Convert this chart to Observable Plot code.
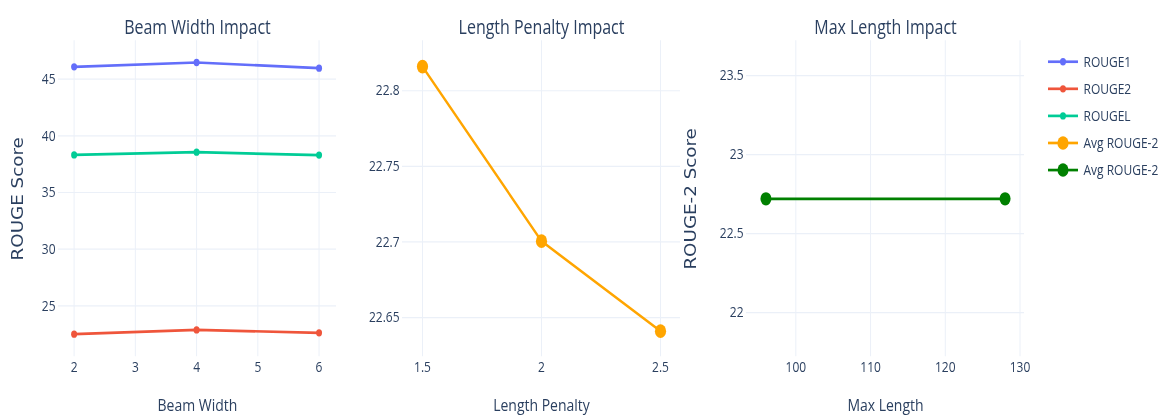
<!DOCTYPE html>
<html>
<head>
<meta charset="utf-8">
<script src="https://cdn.jsdelivr.net/npm/d3@7"></script>
<script src="https://cdn.jsdelivr.net/npm/@observablehq/plot@0.6"></script>
<style>
  html { margin: 0; padding: 0; background: #fff; overflow: hidden; }
  body { margin: 0; padding: 0; background: #fff; width: 1164px; height: 416px; }
  #stage {
    position: relative; width: 1164px; height: 341px;
    transform: scale(1, 1.22); transform-origin: 0 0;
    font-family: "Open Sans", sans-serif;
  }
  #stage > svg { position: absolute; top: 0; }
</style>
</head>
<body>
<div id="stage"></div>
<script>
// Beam width sweep: ROUGE scores
const beamWidths = [2, 4, 6];
const rouge1 = [46.09, 46.47, 45.97];
const rouge2 = [22.50, 22.88, 22.62];
const rougeL = [38.32, 38.56, 38.30];

// Length penalty sweep: average ROUGE-2
const lengthPenalties = [1.5, 2, 2.5];
const avgRouge2ByPenalty = [22.816, 22.7005, 22.641];

// Max length sweep: average ROUGE-2
const maxLengths = [96, 128];
const avgRouge2ByMaxLength = [22.72, 22.72];

// Series names and colours
const metricNames = ["ROUGE1", "ROUGE2", "ROUGEL"];
const metricColors = ["#636efa", "#ef553b", "#00cc96"];
const penaltySeries = "Avg ROUGE-2";
const penaltyColor = "#ffa500";
const maxLengthSeries = "Avg ROUGE-2";
const maxLengthColor = "#008000";

// Tick values
const beamTicks = [2, 3, 4, 5, 6];
const beamScoreTicks = [25, 30, 35, 40, 45];
const penaltyTicks = [1.5, 2, 2.5];
const penaltyScoreTicks = [22.65, 22.7, 22.75, 22.8];
const maxLengthTicks = [100, 110, 120, 130];
const maxLengthScoreTicks = [22, 22.5, 23, 23.5];

const ink = "#2a3f5f";
const gridColor = "#ebf0f8";
const H = 341, TOP = 33, BOTTOM = 49;
const stage = document.getElementById("stage");

function panel({left, width, ml, mr, xDomain, yDomain, xTicks, yTicks, title, xLabel, yLabel, yLabelX, marks, color}) {
  const chart = Plot.plot({
    width, height: H,
    marginLeft: ml, marginRight: mr, marginTop: TOP, marginBottom: BOTTOM,
    x: {domain: xDomain},
    y: {domain: yDomain},
    color,
    style: {fontFamily: '"Open Sans", sans-serif', fontSize: "12px", color: ink, background: "transparent", overflow: "visible"},
    marks: [
      Plot.gridX(xTicks, {stroke: gridColor, strokeOpacity: 1, strokeWidth: 1}),
      Plot.gridY(yTicks, {stroke: gridColor, strokeOpacity: 1, strokeWidth: 1}),
      Plot.axisX(xTicks, {tickSize: 0, tickPadding: 4, tickFormat: d => `${d}`, label: null, fill: ink, fontSize: 12}),
      Plot.axisY(yTicks, {tickSize: 0, tickPadding: 3, tickFormat: d => `${d}`, label: null, fill: ink, fontSize: 12}),
      ...marks,
      Plot.text([title], {text: d => d, frameAnchor: "top", textAnchor: "middle", lineAnchor: "middle", dy: -10.8, fontSize: 16, fill: ink}),
      Plot.text([xLabel], {text: d => d, frameAnchor: "bottom", textAnchor: "middle", lineAnchor: "middle", dy: 40, fontSize: 14, fill: ink}),
      Plot.text([yLabel], {text: d => d, frameAnchor: "left", textAnchor: "middle", lineAnchor: "middle", dx: yLabelX - ml, rotate: -90, fontSize: 15, fontFamily: "DejaVu Sans", fill: ink})
    ]
  });
  chart.style.left = left + "px";
  stage.append(chart);
}

// Panel 1: beam width
const beamRows = metricNames.flatMap((m, k) =>
  beamWidths.map((b, i) => ({x: b, y: [rouge1, rouge2, rougeL][k][i], metric: m})));
panel({
  left: 0, width: 346, ml: 58, mr: 10,
  xDomain: [1.745, 6.285], yDomain: [20.5, 48.38],
  xTicks: beamTicks, yTicks: beamScoreTicks,
  title: "Beam Width Impact", xLabel: "Beam Width", yLabel: "ROUGE Score", yLabelX: 17.3,
  color: {domain: metricNames, range: metricColors},
  marks: [
    Plot.line(beamRows, {x: "x", y: "y", z: "metric", stroke: "metric", strokeWidth: 2.2, strokeLinejoin: "round"}),
    Plot.dot(beamRows, {x: "x", y: "y", fill: "metric", r: 3})
  ]
});

// Panel 2: length penalty
const penaltyRows = lengthPenalties.map((p, i) => ({x: p, y: avgRouge2ByPenalty[i]}));
panel({
  left: 346, width: 344, ml: 56, mr: 10,
  xDomain: [1.416, 2.584], yDomain: [22.624, 22.833],
  xTicks: penaltyTicks, yTicks: penaltyScoreTicks,
  title: "Length Penalty Impact", xLabel: "Length Penalty", yLabel: "ROUGE-2 Score", yLabelX: 345,
  marks: [
    Plot.line(penaltyRows, {x: "x", y: "y", stroke: penaltyColor, strokeWidth: 2.2, strokeLinejoin: "round"}),
    Plot.dot(penaltyRows, {x: "x", y: "y", fill: penaltyColor, r: 5.6})
  ]
});

// Panel 3: max length
const maxLengthRows = maxLengths.map((m, i) => ({x: m, y: avgRouge2ByMaxLength[i]}));
panel({
  left: 690, width: 344, ml: 56, mr: 10,
  xDomain: [93.4, 130.6], yDomain: [21.72, 23.72],
  xTicks: maxLengthTicks, yTicks: maxLengthScoreTicks,
  title: "Max Length Impact", xLabel: "Max Length", yLabel: "ROUGE-2 Score", yLabelX: 696,
  marks: [
    Plot.line(maxLengthRows, {x: "x", y: "y", stroke: maxLengthColor, strokeWidth: 2.4}),
    Plot.dot(maxLengthRows, {x: "x", y: "y", fill: maxLengthColor, r: 5.5})
  ]
});

// Legend
const legendItems = [
  ...metricNames.map((n, i) => ({name: n, color: metricColors[i], r: 3})),
  {name: penaltySeries, color: penaltyColor, r: 5.6},
  {name: maxLengthSeries, color: maxLengthColor, r: 5.5}
];
const legend = d3.create("svg")
  .attr("width", 124).attr("height", 200)
  .style("left", "1040px")
  .style("overflow", "visible");
const item = legend.selectAll("g").data(legendItems).join("g")
  .attr("transform", (d, i) => `translate(0,${50.6 + i * 22.2})`);
item.append("line").attr("x1", 8).attr("x2", 38).attr("stroke", d => d.color).attr("stroke-width", 2.2);
item.append("circle").attr("cx", 23).attr("r", d => d.r).attr("fill", d => d.color);
item.append("text").attr("x", 43.5).attr("dy", "0.35em")
  .attr("fill", ink).attr("font-size", 12).attr("font-family", '"Open Sans", sans-serif')
  .text(d => d.name);
stage.append(legend.node());
</script>
</body>
</html>
